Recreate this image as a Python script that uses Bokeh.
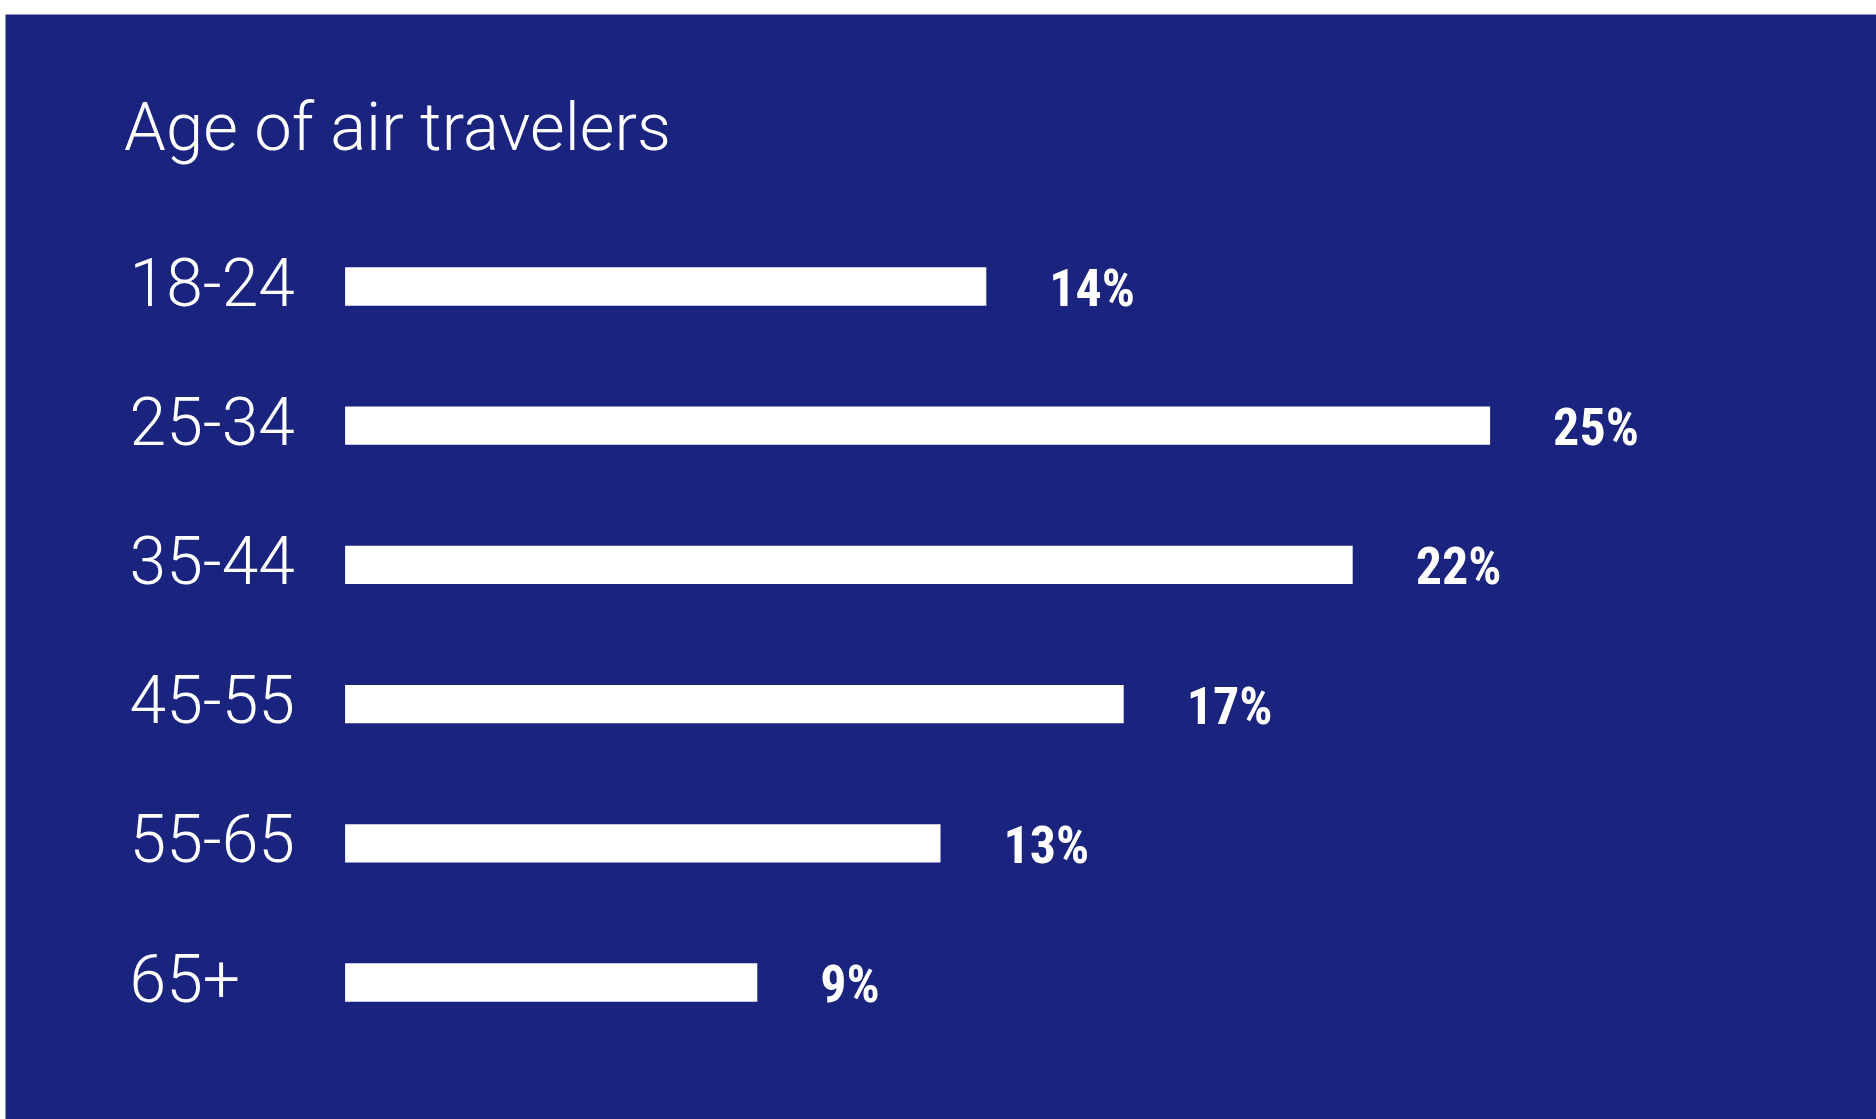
from bokeh.plotting import figure
from bokeh.models import Range1d, ColumnDataSource, Label, Spacer
from bokeh.layouts import column, row
from bokeh.core.properties import value
from bokeh.embed import file_html
from bokeh.resources import INLINE

# data
categories = ["18-24", "25-34", "35-44", "45-55", "55-65", "65+"]
shares = [14, 25, 22, 17, 13, 9]
value_labels = ["14%", "25%", "22%", "17%", "13%", "9%"]
title_text = "Age of air travelers"

BG = "#1A237E"
W, H = 1871, 1105
PX_PER_PCT = 45.8
BAR_LEFT = 339.6
ROW = 139.2
TOP_CENTER = 272.0
BOTTOM_CENTER = 968.0

n = len(categories)
ypos = [n - 1 - i for i in range(n)]

src = ColumnDataSource(dict(y=ypos, v=shares, cat=categories, lab=value_labels,
                            zero=[0] * n))

p = figure(width=W, height=H, output_backend="svg", toolbar_location=None,
           x_axis_location=None, y_axis_location=None,
           x_range=Range1d(-BAR_LEFT / PX_PER_PCT, (W - BAR_LEFT) / PX_PER_PCT),
           y_range=Range1d(-(H - BOTTOM_CENTER) / ROW, (n - 1) + TOP_CENTER / ROW),
           min_border=0, min_border_left=0, min_border_right=0,
           min_border_top=0, min_border_bottom=0)
p.background_fill_color = BG
p.border_fill_color = BG
p.outline_line_color = None
p.grid.visible = False

p.hbar(y="y", left="zero", right="v", height=0.275, source=src,
       fill_color="white", line_color=None)

p.text(x="zero", y="y", text="cat", source=src, x_offset=-215.5, y_offset=-5,
       text_align="left", text_baseline="alphabetic",
       text_font=value("Roboto Light, Roboto"), text_font_size="66px",
       text_color="white")

p.text(x="v", y="y", text="lab", source=src, x_offset=63, y_offset=2,
       text_align="left", text_baseline="alphabetic",
       text_font=value("Roboto Condensed, Liberation Sans Narrow"),
       text_font_style="bold", text_font_size="52px", text_color="white")

p.add_layout(Label(x=118.6, y=H - 112.5, x_units="screen", y_units="screen",
                   text=title_text, text_font="Roboto Light, Roboto",
                   text_font_size="67px", text_color="white",
                   text_baseline="alphabetic", text_align="left"))

layout = column(Spacer(height=14, width=W + 5), row(Spacer(width=5, height=H), p))
open("out.html", "w").write(file_html(layout, INLINE))
